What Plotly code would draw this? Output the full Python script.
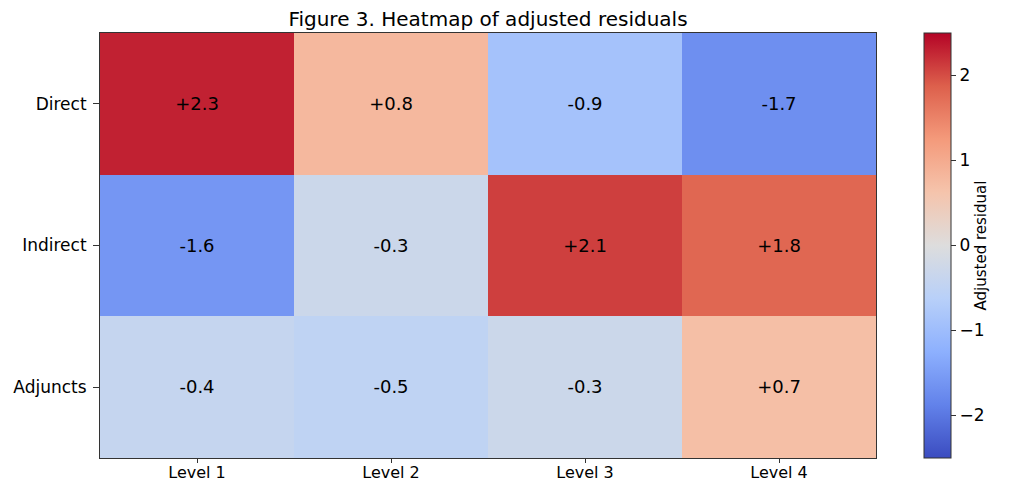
import plotly.graph_objects as go

rows = ["Direct", "Indirect", "Adjuncts"]
cols = ["Level 1", "Level 2", "Level 3", "Level 4"]
values = [
    [2.3, 0.8, -0.9, -1.7],
    [-1.6, -0.3, 2.1, 1.8],
    [-0.4, -0.5, -0.3, 0.7],
]
labels = [[f"{v:+.1f}" for v in r] for r in values]

coolwarm = [
    [0.0, "rgb(59,76,192)"],
    [0.125, "rgb(98,130,234)"],
    [0.25, "rgb(141,176,254)"],
    [0.375, "rgb(184,208,249)"],
    [0.5, "rgb(221,221,221)"],
    [0.625, "rgb(245,196,172)"],
    [0.75, "rgb(244,154,123)"],
    [0.875, "rgb(221,96,76)"],
    [1.0, "rgb(180,4,38)"],
]

font = "DejaVu Sans"
W, H = 1001, 475
fig = go.Figure(go.Heatmap(
    z=values, x=cols, y=rows, zmin=-2.5, zmax=2.5, colorscale=coolwarm,
    text=labels, texttemplate="%{text}", textfont=dict(size=18, color="black", family=font),
    xgap=0, ygap=0,
    colorbar=dict(
        x=1.062, xanchor="left", y=0.5, yanchor="middle", len=1.0, lenmode="fraction",
        xpad=0, ypad=0,
        thickness=27, thicknessmode="pixels", outlinewidth=1, outlinecolor="#333",
        tickvals=[-2, -1, 0, 1, 2], ticktext=["\u22122", "\u22121", "0", "1", "2"],
        ticks="outside", ticklen=5, tickcolor="#333",
        tickfont=dict(size=17, family=font, color="black"),
        title=dict(text="Adjusted residual", side="right", font=dict(size=15, family=font, color="black")),
    ),
))

fig.update_layout(
    width=W, height=H,
    margin=dict(l=92, r=133, t=25, b=25, autoexpand=False),
    paper_bgcolor="white", plot_bgcolor="white",
    title=dict(text="Figure 3. Heatmap of adjusted residuals", x=480 / W, xanchor="center",
               y=1 - 4 / H, yanchor="top", pad=dict(t=0, b=0),
               font=dict(size=20, family=font, color="black")),
    font=dict(family=font, color="black"),
)
fig.update_xaxes(showline=True, linecolor="#333", linewidth=1, mirror=True, ticks="outside",
                 ticklen=4, tickcolor="#333", ticklabelstandoff=-4,
                 tickfont=dict(size=16, family=font, color="black"),
                 showgrid=False, zeroline=False)
fig.update_yaxes(autorange="reversed", showline=True, linecolor="#333", linewidth=1, mirror=True,
                 ticks="outside", ticklen=6, tickcolor="#333", ticklabelstandoff=3,
                 tickfont=dict(size=17, family=font, color="black"), showgrid=False, zeroline=False)

fig.write_html("out.html")
